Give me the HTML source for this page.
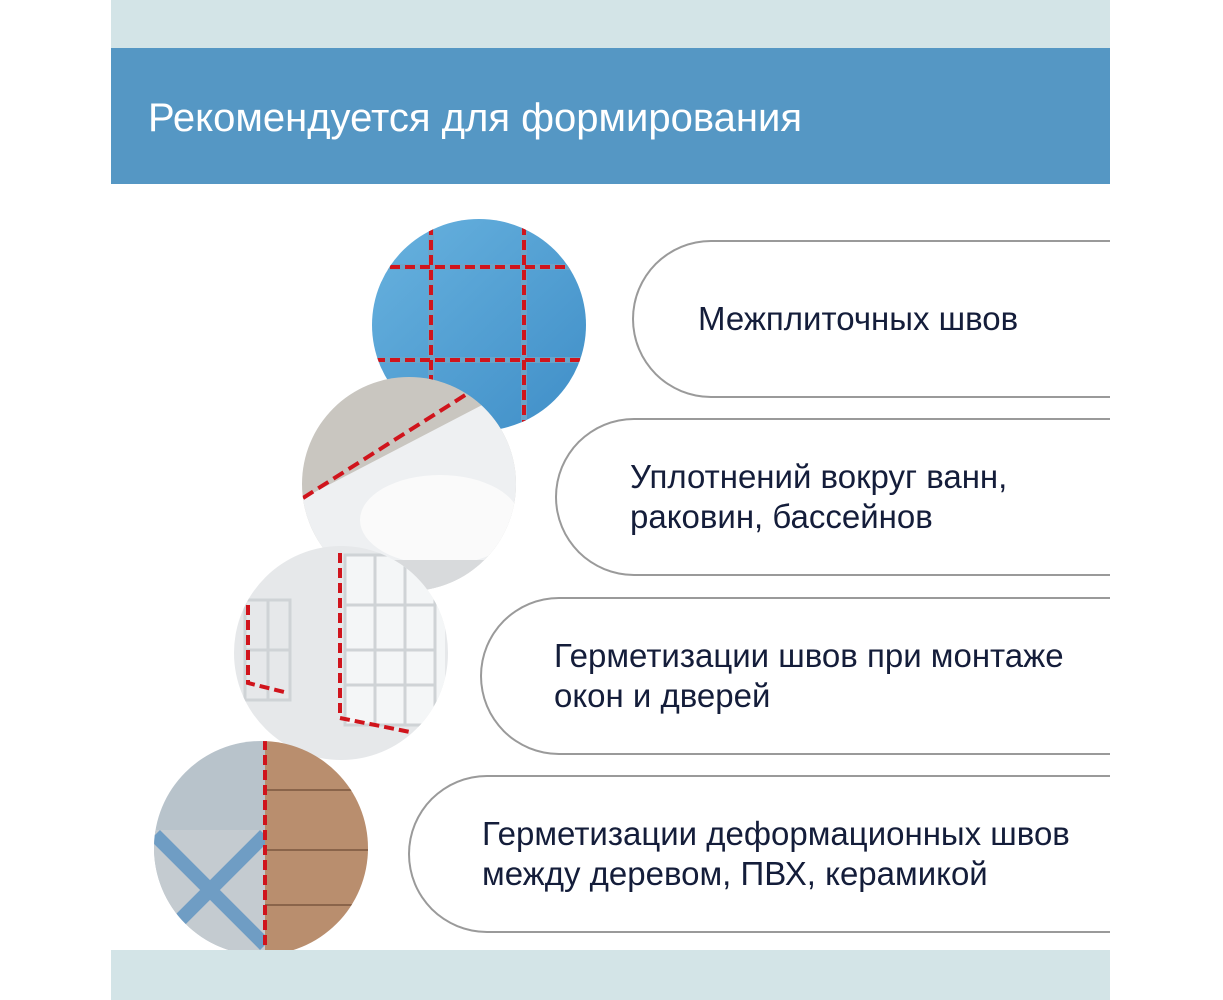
<!DOCTYPE html>
<html><head><meta charset="utf-8"><style>
body{margin:0;width:1223px;height:1000px;background:#fff;overflow:hidden;font-family:"Liberation Sans",sans-serif;position:relative}
.band{position:absolute;left:111px;width:999px;background:#d3e4e7}
.hdr{position:absolute;left:111px;top:48px;width:999px;height:136px;background:#5597c4;color:#fff;font-size:40px;line-height:140px;padding-left:37px;box-sizing:border-box}
.pill{position:absolute;height:158px;border:2px solid #9a9a9a;border-right:none;border-radius:80px 0 0 80px;box-sizing:border-box;right:113px;display:flex;align-items:center;color:#141d3a;font-size:33px;line-height:40px}
</style></head><body>
<svg style="position:absolute;left:0;top:0" width="1223" height="1000">
<defs>
<clipPath id="c1"><ellipse cx="479" cy="325" rx="107" ry="106"/></clipPath>
<clipPath id="c2"><ellipse cx="409" cy="484" rx="107" ry="107"/></clipPath>
<clipPath id="c3"><ellipse cx="341" cy="653" rx="107" ry="107"/></clipPath>
<clipPath id="c4"><ellipse cx="261" cy="848" rx="107" ry="107"/></clipPath>
<linearGradient id="g1" x1="0" y1="0" x2="1" y2="1"><stop offset="0" stop-color="#6ab4e0"/><stop offset="1" stop-color="#3d8cc6"/></linearGradient>
</defs>
<g clip-path="url(#c1)">
<rect x="360" y="210" width="240" height="230" fill="url(#g1)"/>
<g stroke="#6ba3c8" stroke-width="6"><line x1="360" y1="267" x2="600" y2="267"/><line x1="360" y1="360" x2="600" y2="360"/><line x1="431" y1="210" x2="431" y2="440"/><line x1="524" y1="210" x2="524" y2="440"/></g>
<g stroke="#d0141c" stroke-width="4" stroke-dasharray="10 5"><line x1="360" y1="267" x2="600" y2="267"/><line x1="360" y1="360" x2="600" y2="360"/><line x1="431" y1="210" x2="431" y2="440"/><line x1="524" y1="210" x2="524" y2="440"/></g>
</g>
<g clip-path="url(#c2)">
<rect x="290" y="370" width="240" height="240" fill="#c9c6c0"/>
<polygon points="290,505 530,380 530,610 290,610" fill="#eef0f2"/>
<ellipse cx="440" cy="520" rx="80" ry="45" fill="#fafafa"/>
<rect x="290" y="560" width="240" height="50" fill="#d8dadc"/>
<line x1="303" y1="498" x2="470" y2="392" stroke="#d0141c" stroke-width="4" stroke-dasharray="12 6"/>
</g>
<g clip-path="url(#c3)">
<rect x="225" y="540" width="235" height="230" fill="#e6e8ea"/>
<rect x="345" y="555" width="100" height="170" fill="#f4f6f7"/>
<g stroke="#cfd3d6" stroke-width="3" fill="none"><rect x="345" y="555" width="90" height="170"/><line x1="375" y1="555" x2="375" y2="725"/><line x1="405" y1="555" x2="405" y2="725"/><line x1="345" y1="605" x2="435" y2="605"/><line x1="345" y1="650" x2="435" y2="650"/><line x1="345" y1="685" x2="435" y2="685"/>
<rect x="245" y="600" width="45" height="100"/><line x1="268" y1="600" x2="268" y2="700"/><line x1="245" y1="650" x2="290" y2="650"/></g>
<path d="M340 553 V718 L410 732" stroke="#d0141c" stroke-width="4" fill="none" stroke-dasharray="10 5"/>
<path d="M248 605 V683 L288 693" stroke="#d0141c" stroke-width="4" fill="none" stroke-dasharray="10 5"/>
</g>
<g clip-path="url(#c4)">
<rect x="150" y="735" width="115" height="220" fill="#b8c3cb"/>
<rect x="150" y="830" width="115" height="125" fill="#c4cbd0"/>
<path d="M155 835 L265 945 M265 835 L155 945" stroke="#6f9dc4" stroke-width="14"/>
<rect x="265" y="735" width="110" height="220" fill="#b98e6e"/>
<g stroke="#8a644a" stroke-width="2"><line x1="265" y1="790" x2="375" y2="790"/><line x1="265" y1="850" x2="375" y2="850"/><line x1="265" y1="905" x2="375" y2="905"/></g>
<line x1="265" y1="740" x2="265" y2="955" stroke="#d0141c" stroke-width="4" stroke-dasharray="10 5"/>
</g>
</svg>
<div class="band" style="top:0;height:48px"></div>
<div class="band" style="top:950px;height:50px"></div>
<div class="hdr">Рекомендуется для формирования</div>
<div class="pill" style="left:632px;top:240px;padding-left:64px">Межплиточных швов</div>
<div class="pill" style="left:555px;top:418px;padding-left:73px">Уплотнений вокруг ванн,<br>раковин, бассейнов</div>
<div class="pill" style="left:480px;top:597px;padding-left:72px">Герметизации швов при монтаже<br>окон и дверей</div>
<div class="pill" style="left:408px;top:775px;padding-left:72px">Герметизации деформационных швов<br>между деревом, ПВХ, керамикой</div>
</body></html>
